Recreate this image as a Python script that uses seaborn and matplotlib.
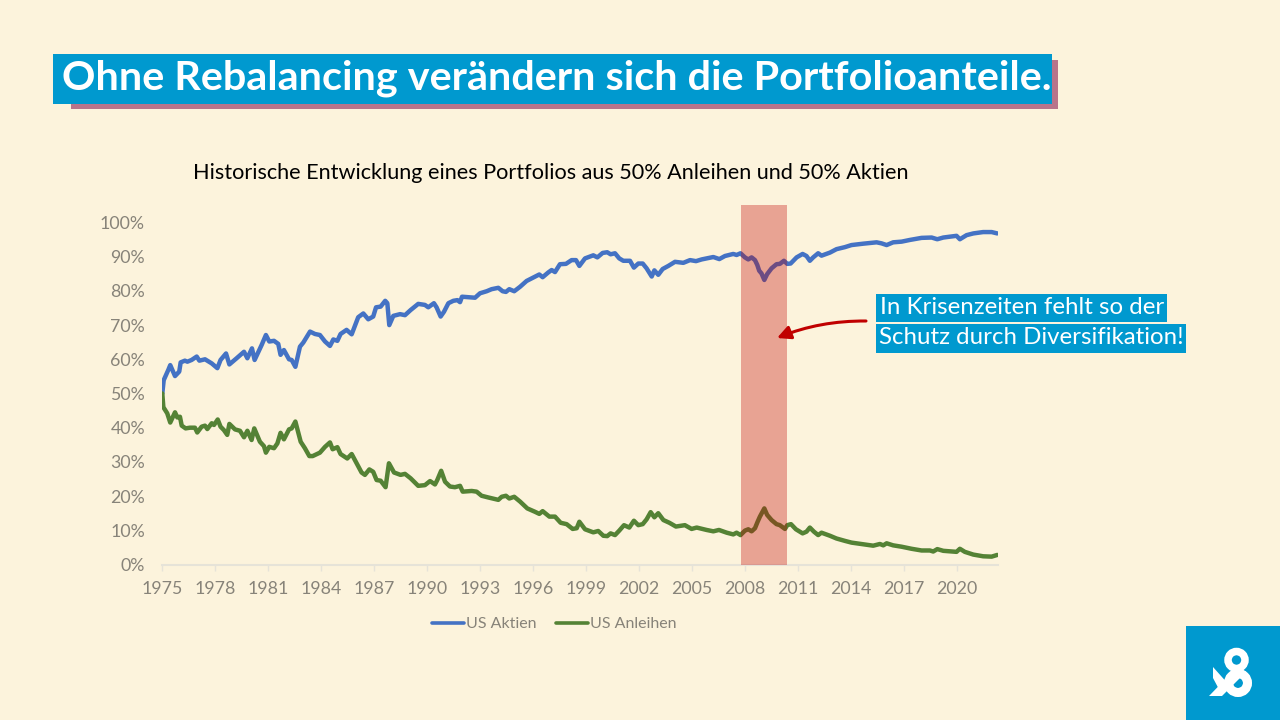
import matplotlib
matplotlib.use('Agg')
import matplotlib.pyplot as plt
import pandas as pd
import seaborn as sns
from matplotlib.patches import Circle, Polygon, Rectangle, FancyArrowPatch

title = 'Ohne Rebalancing verändern sich die Portfolioanteile.'
subtitle = 'Historische Entwicklung eines Portfolios aus 50% Anleihen und 50% Aktien'
note_1 = 'In Krisenzeiten fehlt so der'
note_2 = 'Schutz durch Diversifikation!'
tick_years = [1975, 1978, 1981, 1984, 1987, 1990, 1993, 1996, 1999, 2002, 2005, 2008, 2011, 2014, 2017, 2020]
tick_pct = [0, 10, 20, 30, 40, 50, 60, 70, 80, 90, 100]
crisis = [2007.78, 2010.39]

aktien_x = [1975.0, 1975.08, 1975.34, 1975.45, 1975.72, 1975.96, 1976.04, 1976.28, 1976.42, 1976.66, 1976.95, 1977.1,
            1977.42, 1977.8, 1978.12, 1978.3, 1978.61, 1978.8, 1979.21, 1979.63, 1979.82, 1980.08, 1980.23, 1980.63,
            1980.87, 1981.06, 1981.33, 1981.57, 1981.7, 1981.89, 1982.18, 1982.33, 1982.54, 1982.8, 1982.99, 1983.37,
            1983.65, 1983.93, 1984.22, 1984.5, 1984.69, 1984.92, 1985.1, 1985.44, 1985.73, 1986.1, 1986.39, 1986.67,
            1986.95, 1987.11, 1987.37, 1987.63, 1987.75, 1987.86, 1988.09, 1988.47, 1988.75, 1989.07, 1989.5,
            1989.88, 1990.07, 1990.39, 1990.54, 1990.77, 1990.96, 1991.21, 1991.49, 1991.72, 1991.87, 1991.98,
            1992.43, 1992.72, 1993.0, 1993.38, 1993.66, 1994.04, 1994.28, 1994.47, 1994.66, 1994.94, 1995.27, 1995.64,
            1996.02, 1996.36, 1996.55, 1996.87, 1997.06, 1997.25, 1997.53, 1997.87, 1998.19, 1998.44, 1998.63, 1998.95,
            1999.42, 1999.65, 1999.95, 2000.21, 2000.4, 2000.65, 2000.89, 2001.12, 2001.5, 2001.72, 2001.97, 2002.22,
            2002.44, 2002.73, 2002.88, 2003.1, 2003.35, 2003.67, 2004.05, 2004.52, 2004.9, 2005.24, 2005.56, 2006.22,
            2006.56, 2006.88, 2007.35, 2007.54, 2007.76, 2008.01, 2008.2, 2008.39, 2008.58, 2008.71, 2008.82, 2008.95,
            2009.11, 2009.27, 2009.52, 2009.8, 2009.99, 2010.22, 2010.41, 2010.6, 2010.94, 2011.28, 2011.5, 2011.69,
            2011.88, 2012.16, 2012.35, 2012.83, 2013.2, 2013.68, 2014.05, 2014.71, 2015.47, 2015.75, 2016.04, 2016.41,
            2016.89, 2017.36, 2018.02, 2018.59, 2018.91, 2019.25, 2020.0, 2020.19, 2020.57, 2020.95, 2021.51, 2021.99,
            2022.31]
aktien_y = [50.0, 53.9, 56.9, 58.3, 55.1, 56.4, 59.1, 59.6, 59.3, 59.8, 60.8, 59.6,
            60.0, 58.8, 57.4, 59.8, 61.7, 58.5, 60.3, 62.2, 60.3, 63.2, 59.8, 64.2,
            67.1, 65.2, 65.4, 64.5, 61.3, 62.7, 60.0, 59.8, 57.8, 63.7, 64.9, 68.1,
            67.4, 67.1, 65.2, 63.9, 65.8, 65.4, 67.4, 68.6, 67.3, 72.3, 73.4, 71.7,
            72.5, 75.2, 75.4, 77.1, 76.4, 70.0, 72.7, 73.2, 72.9, 74.4, 76.2,
            75.9, 75.2, 76.4, 75.2, 72.5, 73.9, 76.4, 77.1, 77.3, 76.7, 78.3,
            78.1, 78.0, 79.3, 79.9, 80.5, 80.9, 79.9, 79.7, 80.5, 79.9, 81.2, 82.9,
            83.9, 84.8, 84.0, 85.4, 86.1, 85.5, 87.8, 87.9, 89.0, 89.0, 87.3, 89.5,
            90.4, 89.8, 91.1, 91.3, 90.7, 91.0, 89.5, 88.8, 88.8, 86.8, 88.0, 88.0,
            86.6, 84.2, 86.0, 84.7, 86.4, 87.3, 88.5, 88.2, 89.0, 88.7, 89.2, 89.9,
            89.3, 90.2, 90.8, 90.5, 91.0, 89.8, 89.2, 89.8, 89.0, 87.6, 85.9, 85.1,
            83.2, 84.9, 86.6, 87.8, 87.9, 88.8, 87.9, 88.0, 89.8, 90.8, 90.2, 88.8,
            89.8, 91.0, 90.3, 91.2, 92.2, 92.8, 93.4, 93.8, 94.2, 93.9, 93.4, 94.2,
            94.4, 94.9, 95.5, 95.6, 95.1, 95.6, 96.1, 95.1, 96.3, 96.8, 97.2, 97.2,
            96.8]

anleihen_x = [1975.0, 1975.06, 1975.28, 1975.45, 1975.72, 1975.85, 1976.0, 1976.1, 1976.32, 1976.57, 1976.85, 1976.98,
              1977.23, 1977.42, 1977.55, 1977.8, 1977.93, 1978.14, 1978.3, 1978.49, 1978.68, 1978.8, 1979.12, 1979.4,
              1979.63, 1979.82, 1980.06, 1980.21, 1980.53, 1980.76, 1980.87, 1981.06, 1981.33, 1981.52, 1981.7, 1981.89,
              1982.18, 1982.33, 1982.54, 1982.84, 1983.08, 1983.33, 1983.52, 1983.93, 1984.22, 1984.5, 1984.65, 1984.92,
              1985.1, 1985.48, 1985.73, 1986.01, 1986.29, 1986.48, 1986.73, 1986.95, 1987.14, 1987.37, 1987.65, 1987.84,
              1988.13, 1988.5, 1988.75, 1989.07, 1989.5, 1989.88, 1990.17, 1990.45, 1990.58, 1990.8, 1991.02, 1991.3,
              1991.58, 1991.87, 1992.02, 1992.53, 1992.81, 1993.09, 1993.47, 1994.04, 1994.23, 1994.47, 1994.66, 1994.94,
              1995.27, 1995.68, 1996.12, 1996.36, 1996.55, 1996.93, 1997.25, 1997.57, 1997.91, 1998.25, 1998.48, 1998.63,
              1998.95, 1999.42, 1999.7, 1999.99, 2000.21, 2000.4, 2000.65, 2000.89, 2001.16, 2001.46, 2001.72, 2001.97,
              2002.22, 2002.44, 2002.67, 2002.88, 2003.1, 2003.39, 2003.73, 2004.1, 2004.61, 2004.99, 2005.28, 2005.84,
              2006.22, 2006.54, 2006.98, 2007.35, 2007.54, 2007.76, 2008.01, 2008.2, 2008.39, 2008.58, 2008.73, 2008.86,
              2009.11, 2009.27, 2009.52, 2009.8, 2009.99, 2010.28, 2010.41, 2010.62, 2010.9, 2011.28, 2011.5, 2011.69,
              2011.92, 2012.16, 2012.35, 2012.83, 2013.2, 2013.68, 2014.05, 2014.71, 2015.28, 2015.66, 2015.85, 2016.04,
              2016.41, 2016.89, 2017.45, 2018.02, 2018.49, 2018.68, 2018.91, 2019.25, 2020.0, 2020.19, 2020.47, 2020.95,
              2021.51, 2021.99, 2022.31]
anleihen_y = [50.0, 46.0, 44.2, 41.5, 44.5, 43.0, 43.2, 40.6, 39.8, 40.0, 40.0, 38.6,
              40.3, 40.6, 39.6, 41.3, 40.8, 42.4, 40.3, 39.3, 37.9, 41.1, 39.5, 39.1,
              37.2, 39.1, 36.4, 39.8, 35.9, 34.6, 32.7, 34.4, 34.0, 35.4, 38.5, 36.6,
              39.5, 39.8, 41.8, 35.9, 34.0, 31.7, 31.7, 32.7, 34.4, 35.7, 33.7, 34.3,
              32.3, 31.0, 32.3, 29.6, 26.9, 26.2, 27.8, 27.1, 24.7, 24.5, 22.6, 29.6,
              26.9, 26.2, 26.5, 25.2, 23.0, 23.2, 24.4, 23.4, 24.7, 27.4, 24.2, 22.8,
              22.6, 23.0, 21.3, 21.5, 21.3, 20.1, 19.6, 18.9, 19.8, 20.1, 19.3, 19.8,
              18.4, 16.4, 15.4, 14.8, 15.6, 14.0, 14.0, 12.2, 11.8, 10.4, 10.6, 12.5,
              10.3, 9.4, 9.8, 8.4, 8.3, 9.1, 8.6, 9.9, 11.5, 10.8, 12.8, 11.5,
              11.8, 13.2, 15.3, 13.8, 15.0, 13.0, 12.2, 11.1, 11.5, 10.4, 10.8, 10.1,
              9.7, 10.1, 9.3, 8.8, 9.3, 8.6, 9.9, 10.3, 9.7, 10.6, 12.5, 14.0,
              16.4, 14.5, 13.0, 11.8, 11.5, 10.4, 11.5, 11.8, 10.3, 9.1, 9.6, 10.8,
              9.6, 8.6, 9.3, 8.4, 7.6, 6.9, 6.4, 5.9, 5.5, 6.0, 5.6, 6.2,
              5.6, 5.2, 4.6, 4.1, 4.1, 3.8, 4.5, 4.0, 3.7, 4.6, 3.7, 2.9,
              2.4, 2.3, 2.8]

BG = '#FCF3DC'
BLUE = '#0099CF'
GREY = '#878379'
FONT = 'Lato'

df = pd.concat([
    pd.DataFrame({'jahr': aktien_x, 'anteil': aktien_y, 'serie': 'US Aktien'}),
    pd.DataFrame({'jahr': anleihen_x, 'anteil': anleihen_y, 'serie': 'US Anleihen'}),
])

sns.set_theme(style='white', rc={'figure.facecolor': BG, 'axes.facecolor': BG})
plt.rcParams['font.family'] = [FONT, 'DejaVu Sans']

fig = plt.figure(figsize=(12.8, 7.2), dpi=100)
ax = fig.add_axes([162.3 / 1280, 1 - 564.5 / 720, (998 - 162.3) / 1280, (564.5 - 204.7) / 720])

sns.lineplot(data=df, x='jahr', y='anteil', hue='serie', estimator=None, sort=False,
             palette={'US Aktien': '#4472C4', 'US Anleihen': '#548235'}, linewidth=3.2, ax=ax)
ax.axvspan(crisis[0], crisis[1], color='#C00000', alpha=0.33, lw=0, zorder=5)

ax.set_xlim(1975, 2022.35)
ax.set_ylim(0, 105.2)
ax.set_xticks(tick_years)
ax.set_yticks(tick_pct)
ax.set_yticklabels([f'{p}%' for p in tick_pct])
ax.set_xlabel('')
ax.set_ylabel('')
ax.tick_params(axis='x', length=4, width=1, color='#E6E3D8', labelsize=12.8, labelcolor=GREY, pad=8, bottom=True)
ax.tick_params(axis='y', length=0, labelsize=12.8, labelcolor=GREY, pad=12.5)
sns.despine(ax=ax, left=True)
ax.spines['bottom'].set_color('#E6E3D8')
ax.spines['bottom'].set_linewidth(1.5)

leg = ax.legend(loc='center', bbox_to_anchor=((554.5 - 162.3) / 835.7, (564.5 - 624) / 359.8), ncol=2, frameon=False,
                fontsize=11.5, handlelength=2.0, handletextpad=0.13, columnspacing=1.2, labelcolor=GREY)
for h in leg.get_lines():
    h.set_linewidth(2.6)

# overlay in pixel coordinates for the slide furniture
ov = fig.add_axes([0, 0, 1, 1], zorder=10)
ov.set_xlim(0, 1280)
ov.set_ylim(720, 0)
ov.axis('off')

ov.add_patch(Rectangle((71, 60), 987, 49, color='#B8748A', lw=0))
ov.add_patch(Rectangle((53, 54), 999, 50, color=BLUE, lw=0))
ov.text(62, 78, title, color='white', fontsize=29.8, fontweight='bold', va='center', ha='left')
ov.text(193, 173, subtitle, color='black', fontsize=15.6, va='center', ha='left')

ov.add_patch(Rectangle((876, 294), 291, 28, color=BLUE, lw=0))
ov.add_patch(Rectangle((876, 324), 310, 29, color=BLUE, lw=0))
ov.text(880, 308, note_1, color='white', fontsize=17.3, va='center', ha='left')
ov.text(879, 338, note_2, color='white', fontsize=17.3, va='center', ha='left')

ov.add_patch(FancyArrowPatch((866, 321), (777, 338), connectionstyle='arc3,rad=0.1', arrowstyle='-|>,head_length=5,head_width=2.5',
                             color='#C00000', lw=2.2, mutation_scale=1.6, shrinkA=0, shrinkB=0))

# logo
ov.add_patch(Rectangle((1186, 626), 94, 94, color=BLUE, lw=0))
ov.add_patch(Circle((1236.5, 660), 8.5, fill=False, ec='white', lw=5.4))
ov.add_patch(Circle((1238, 683), 9.5, fill=False, ec='white', lw=6.5))
ov.add_patch(Polygon([(1213, 667), (1230, 686), (1222, 695), (1213, 678)], color='white', lw=0))
ov.add_patch(Polygon([(1209, 696), (1222, 696), (1246, 672), (1238, 666)], color='white', lw=0))

fig.savefig('out.png', dpi=100, facecolor=BG)
